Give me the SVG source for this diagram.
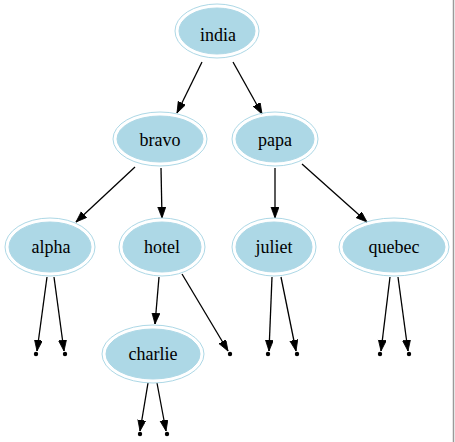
<svg xmlns="http://www.w3.org/2000/svg" width="455" height="442" viewBox="0 0 455 442">
<style>
.outer{fill:none;stroke:#add8e6;stroke-width:1}
.inner{fill:#add8e6;stroke:#add8e6;stroke-width:1}
.lbl{font-family:"Liberation Serif","Times New Roman",serif;font-size:18px;fill:#000;text-anchor:middle}
.edge{stroke:#000;stroke-width:1.3;fill:none;marker-end:url(#arr)}
.pt{fill:#000}
</style>
<defs>
<marker id="arr" markerUnits="userSpaceOnUse" markerWidth="13" markerHeight="10" refX="11" refY="4" orient="auto">
<path d="M0,0 L11,4 L0,8 Z" fill="#000" stroke="#000" stroke-width="0.8"/>
</marker>
</defs>
<rect x="0" y="0" width="455" height="442" fill="#fff"/>
<line x1="453.5" y1="0" x2="453.5" y2="442" stroke="#9a9a9a" stroke-width="1.5"/>
<g id="connectors">
<line class="edge" x1="202" y1="62" x2="177" y2="113"/>
<line class="edge" x1="233" y1="62" x2="262" y2="114"/>
<line class="edge" x1="135" y1="167" x2="76" y2="222"/>
<line class="edge" x1="161" y1="168" x2="162" y2="218"/>
<line class="edge" x1="275" y1="168" x2="275" y2="218"/>
<line class="edge" x1="302" y1="164" x2="367" y2="222"/>
<line class="edge" x1="47" y1="277" x2="37" y2="351"/>
<line class="edge" x1="54" y1="277" x2="64" y2="351"/>
<line class="edge" x1="159" y1="277" x2="155" y2="324"/>
<line class="edge" x1="182" y1="274" x2="228" y2="351"/>
<line class="edge" x1="272" y1="277" x2="269" y2="351"/>
<line class="edge" x1="281" y1="277" x2="296" y2="351"/>
<line class="edge" x1="390" y1="277" x2="381" y2="351"/>
<line class="edge" x1="398" y1="277" x2="408" y2="351"/>
<line class="edge" x1="148" y1="383" x2="140" y2="431"/>
<line class="edge" x1="157" y1="383" x2="166" y2="431"/>
</g>
<g id="india"><ellipse class="outer" cx="217" cy="31" rx="42" ry="27"/><ellipse class="inner" cx="217" cy="31" rx="38" ry="23"/><text class="lbl" x="218" y="41">india</text></g>
<g id="bravo"><ellipse class="outer" cx="160" cy="139" rx="47" ry="27"/><ellipse class="inner" cx="160" cy="139" rx="43" ry="23"/><text class="lbl" x="160" y="146">bravo</text></g>
<g id="papa"><ellipse class="outer" cx="275" cy="139" rx="43" ry="27"/><ellipse class="inner" cx="275" cy="139" rx="39" ry="23"/><text class="lbl" x="275" y="146">papa</text></g>
<g id="alpha"><ellipse class="outer" cx="50" cy="247" rx="45" ry="29"/><ellipse class="inner" cx="50" cy="247" rx="41" ry="25"/><text class="lbl" x="51" y="253">alpha</text></g>
<g id="hotel"><ellipse class="outer" cx="162" cy="247" rx="43" ry="29"/><ellipse class="inner" cx="162" cy="247" rx="39" ry="25"/><text class="lbl" x="162" y="253">hotel</text></g>
<g id="juliet"><ellipse class="outer" cx="274" cy="247" rx="42" ry="29"/><ellipse class="inner" cx="274" cy="247" rx="38" ry="25"/><text class="lbl" x="274" y="253">juliet</text></g>
<g id="quebec"><ellipse class="outer" cx="394" cy="247" rx="55" ry="29"/><ellipse class="inner" cx="394" cy="247" rx="51" ry="25"/><text class="lbl" x="394" y="253">quebec</text></g>
<g id="charlie"><ellipse class="outer" cx="153" cy="354" rx="51" ry="29"/><ellipse class="inner" cx="153" cy="354" rx="47" ry="25"/><text class="lbl" x="153" y="360">charlie</text></g>
<g id="points">
<circle class="pt" cx="36" cy="354" r="2.2"/>
<circle class="pt" cx="65" cy="354" r="2.2"/>
<circle class="pt" cx="230" cy="354" r="2.2"/>
<circle class="pt" cx="268" cy="354" r="2.2"/>
<circle class="pt" cx="297" cy="354" r="2.2"/>
<circle class="pt" cx="380" cy="354" r="2.2"/>
<circle class="pt" cx="409" cy="354" r="2.2"/>
<circle class="pt" cx="140" cy="434" r="2.2"/>
<circle class="pt" cx="167" cy="434" r="2.2"/>
</g>
</svg>
